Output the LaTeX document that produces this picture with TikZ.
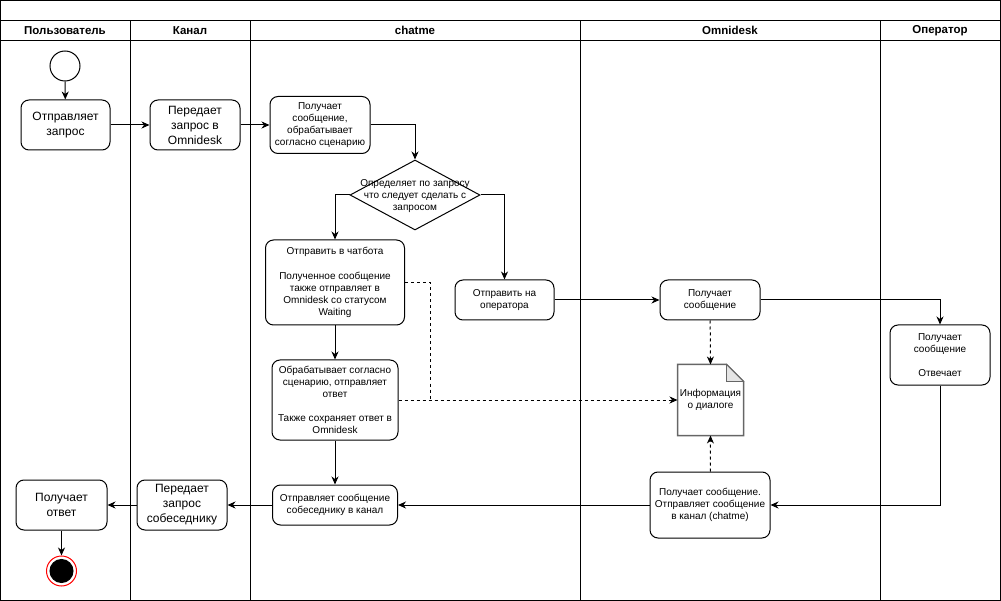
\documentclass[tikz,border=0pt]{standalone}
\usepackage{fontspec}
\setmainfont{Liberation Sans}
\usetikzlibrary{shapes.geometric,arrows.meta}
\begin{document}
\begin{tikzpicture}[x=1pt,y=-1pt,line width=1pt,
  box/.style={draw, rounded corners=8pt, align=center, inner sep=1pt, font=\fontsize{10}{12}\selectfont},
  bigbox/.style={box, font=\fontsize{12}{15}\selectfont},
  lanehead/.style={font=\bfseries\fontsize{11.5}{14}\selectfont},
  arr/.style={-{Stealth[length=8pt,width=7pt,inset=2.5pt]}},
  dashline/.style={dash pattern=on 3pt off 3pt}]
\useasboundingbox (0,0) rectangle (1001,601);
% pool and lanes
\draw (0.5,0.5) rectangle (1000.5,600.5);
\draw (0.5,20.5) -- (1000.5,20.5);
\draw (0.5,40.5) -- (1000.5,40.5);
\foreach \x in {130.5,250.5,580.5,880.5} \draw (\x,20.5) -- (\x,600.5);
\node[lanehead] (h1) at (65,30.5) {Пользователь};
\node[lanehead] (h2) at (190,30.5) {Канал};
\node[lanehead] (h3) at (415,30.5) {chatme};
\node[lanehead] (h4) at (730,30.5) {Omnidesk};
\node[lanehead] (h5) at (940,30.5) {Оператор};
% nodes
\node[draw, circle, minimum size=30pt, inner sep=0] (start) at (65,66) {};
\node[bigbox, minimum width=89pt, minimum height=50pt] (u1) at (65.5,125) {Отправляет\\запрос};
\node[bigbox, minimum width=90pt, minimum height=50pt] (k1) at (195,125) {Передает\\запрос в\\Omnidesk};
\node[box, minimum width=100pt, minimum height=57pt] (c1) at (320,125) {Получает\\сообщение,\\обрабатывает\\согласно сценарию};
\node[draw, diamond, minimum width=130pt, minimum height=70pt, inner sep=0] (dec) at (415,195) {};
\node[align=center, font=\fontsize{10}{12}\selectfont] (dect) at (415,196) {Определяет по запросу\\что следует сделать с\\запросом};
\node[box, minimum width=139pt, minimum height=85pt] (c2) at (335,282.5) {Отправить в чатбота\\[13pt]Полученное сообщение\\также отправляет в\\Omnidesk со статусом\\Waiting};
\node[box, minimum width=99pt, minimum height=40pt] (c3) at (504.5,300) {Отправить на\\оператора};
\node[box, minimum width=100pt, minimum height=40pt] (o1) at (710,300) {Получает\\сообщение};
\node[box, minimum width=100pt, minimum height=60pt] (op1) at (940,355) {Получает\\сообщение\\[12pt]Отвечает};
\node[box, minimum width=126pt, minimum height=80pt] (c4) at (335,400) {Обрабатывает согласно\\сценарию, отправляет\\ответ\\[12pt]Также сохраняет ответ в\\Omnidesk};
\node[align=center, inner sep=0, minimum width=65pt, minimum height=70pt, font=\fontsize{10}{12}\selectfont] (doc) at (710.5,400) {Информация\\о диалоге};
\draw[black!60, line width=1.5pt] (doc.north west) -- ([xshift=-17pt]doc.north east) -- ([yshift=-17pt]doc.north east) -- (doc.south east) -- (doc.south west) -- cycle;
\draw[black!60, fill=black!10, line width=0.8pt] ([xshift=-17pt]doc.north east) -- ([xshift=-17pt,yshift=-17pt]doc.north east) -- ([yshift=-17pt]doc.north east) -- cycle;
\node[box, minimum width=125pt, minimum height=40pt] (c5) at (335,505) {Отправляет сообщение\\собеседнику в канал};
\node[box, minimum width=120pt, minimum height=66pt] (o2) at (710,505) {Получает сообщение.\\Отправляет сообщение\\в канал (chatme)};
\node[bigbox, minimum width=90pt, minimum height=50pt] (k2) at (182,505) {Передает\\запрос\\собеседнику};
\node[bigbox, minimum width=91pt, minimum height=50pt] (u2) at (61.5,505) {Получает\\ответ};
\node[draw=red, circle, fill=white, minimum size=30pt, inner sep=0] (end) at (61.5,571) {};
\node[circle, fill=black, draw=black, minimum size=23pt, inner sep=0] (endc) at (end) {};
\coordinate (m) at (430,400);
% connectors
\draw[arr] (start) -- (u1);
\draw[arr] (u1) -- (k1);
\draw[arr] (k1) -- (c1);
\draw[arr] (c1.east) -| (dec.north);
\draw[arr] (dec.west) -| (c2.north);
\draw[arr] (dec.east) -| (c3.north);
\draw[arr] (c3) -- (o1);
\draw[arr] (o1.east) -| (op1.north);
\draw[arr,dashline] (o1) -- (doc.north);
\draw[dashline] (c2.east) -| (m);
\draw[arr,dashline] (c4.east) -- (doc.west);
\draw[arr] (c2) -- (c4);
\draw[arr] (c4) -- (c5);
\draw[arr] (op1.south) |- (o2.east);
\draw[arr,dashline] (o2) -- (doc.south);
\draw[arr] (o2) -- (c5);
\draw[arr] (c5) -- (k2);
\draw[arr] (k2) -- (u2);
\draw[arr] (u2) -- (end);
\end{tikzpicture}
\end{document}
